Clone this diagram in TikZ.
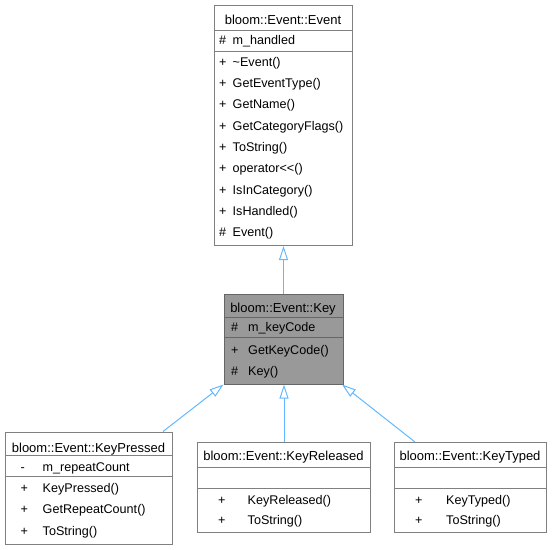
\documentclass[tikz,border=0pt]{standalone}
\usepackage{fontspec}
\setmainfont{Liberation Sans}
\usetikzlibrary{arrows.meta,calc}
\definecolor{edgeblue}{HTML}{63B8FF}
\definecolor{keyfill}{HTML}{999999}
\definecolor{bordergray}{HTML}{666666}
\definecolor{lightborder}{HTML}{808080}
\tikzset{
  umlbox/.style={draw=lightborder, line width=1pt, inner sep=0pt, anchor=north west, fill=white},
  sepline/.style={draw=lightborder, line width=1pt},
  keysep/.style={draw=bordergray, line width=1pt},
  txt/.style={inner sep=0pt, anchor=base west, font=\fontsize{12.6}{15}\selectfont},
  ttl/.style={inner sep=0pt, anchor=base, font=\fontsize{13}{15}\selectfont},
  inherit/.style={draw=edgeblue, line width=1pt, -{Triangle[open, length=14pt, width=9pt, fill=white]}}
}
\begin{document}
\begin{tikzpicture}[x=1pt, y=-1pt]
\useasboundingbox (0,0) rectangle (554,549);

% ---------- boxes ----------
\node[umlbox, minimum width=138pt, minimum height=240.5pt] (event) at (214,4.5) {};
\node[umlbox, draw=bordergray, fill=keyfill, minimum width=119pt, minimum height=90pt] (key) at (223.5,293.5) {};
\node[umlbox, minimum width=167pt, minimum height=112pt] (kp) at (5,431.5) {};
\node[umlbox, minimum width=173pt, minimum height=90pt] (kr) at (197,442) {};
\node[umlbox, minimum width=152pt, minimum height=90pt] (kt) at (394,442) {};

% separators
\draw[sepline] (214,30.5) -- (352,30.5);
\draw[sepline] (214,51) -- (352,51);
\draw[keysep] (223.5,317.5) -- (342.5,317.5);
\draw[keysep] (223.5,337.5) -- (342.5,337.5);
\draw[sepline] (5,455.5) -- (172,455.5);
\draw[sepline] (5,476.5) -- (172,476.5);
\draw[sepline] (197,467) -- (370,467);
\draw[sepline] (197,488) -- (370,488);
\draw[sepline] (394,467) -- (546,467);
\draw[sepline] (394,488) -- (546,488);

% ---------- Event ----------
\node[ttl] (et) at (283,24) {bloom::Event::Event};
\node[txt] (ea1s) at (219,44.3) {\#};
\node[txt] (ea1n) at (232.5,44.3) {m\_handled};
\node[txt] (em1s) at (219,66) {+};
\node[txt] (em1n) at (232.5,66) {\textasciitilde Event()};
\node[txt] (em2s) at (219,87.3) {+};
\node[txt] (em2n) at (232.5,87.3) {GetEventType()};
\node[txt] (em3s) at (219,108.6) {+};
\node[txt] (em3n) at (232.5,108.6) {GetName()};
\node[txt] (em4s) at (219,130) {+};
\node[txt] (em4n) at (232.5,130) {GetCategoryFlags()};
\node[txt] (em5s) at (219,151.3) {+};
\node[txt] (em5n) at (232.5,151.3) {ToString()};
\node[txt] (em6s) at (219,172.6) {+};
\node[txt] (em6n) at (232.5,172.6) {operator<{}<()};
\node[txt] (em7s) at (219,194) {+};
\node[txt] (em7n) at (232.5,194) {IsInCategory()};
\node[txt] (em8s) at (219,215.3) {+};
\node[txt] (em8n) at (232.5,215.3) {IsHandled()};
\node[txt] (em9s) at (219,236.6) {\#};
\node[txt] (em9n) at (232.5,236.6) {Event()};

% ---------- Key ----------
\node[ttl] (kt0) at (283,312.3) {bloom::Event::Key};
\node[txt] (ka1s) at (231,331.7) {\#};
\node[txt] (ka1n) at (248,331.7) {m\_keyCode};
\node[txt] (km1s) at (231,354.3) {+};
\node[txt] (km1n) at (248,354.3) {GetKeyCode()};
\node[txt] (km2s) at (231,375.7) {\#};
\node[txt] (km2n) at (248,375.7) {Key()};

% ---------- KeyPressed ----------
\node[ttl] (kpt) at (88.5,452.3) {bloom::Event::KeyPressed};
\node[txt] (kpa1s) at (20.5,471.7) {-};
\node[txt] (kpa1n) at (42.5,471.7) {m\_repeatCount};
\node[txt] (kpm1s) at (20.5,492.7) {+};
\node[txt] (kpm1n) at (42.5,492.7) {KeyPressed()};
\node[txt] (kpm2s) at (20.5,513.8) {+};
\node[txt] (kpm2n) at (42.5,513.8) {GetRepeatCount()};
\node[txt] (kpm3s) at (20.5,535) {+};
\node[txt] (kpm3n) at (42.5,535) {ToString()};

% ---------- KeyReleased ----------
\node[ttl] (krt) at (283.5,460) {bloom::Event::KeyReleased};
\node[txt] (krm1s) at (218,504) {+};
\node[txt] (krm1n) at (247.5,504) {KeyReleased()};
\node[txt] (krm2s) at (218,524.5) {+};
\node[txt] (krm2n) at (247.5,524.5) {ToString()};

% ---------- KeyTyped ----------
\node[ttl] (ktt) at (470,460) {bloom::Event::KeyTyped};
\node[txt] (ktm1s) at (415,504) {+};
\node[txt] (ktm1n) at (446,504) {KeyTyped()};
\node[txt] (ktm2s) at (415,524.5) {+};
\node[txt] (ktm2n) at (446,524.5) {ToString()};

% ---------- inheritance ----------
\draw[inherit] (key.north) -- (event.south);
\draw[inherit] ($(kp.north east)+(-10,0)$) -- (key.south west);
\draw[inherit] (kr.north) -- (kr.north |- key.south);
\draw[inherit] ($(kt.north west)+(21,0)$) -- ($(key.south east)+(-1.5,0)$);
\end{tikzpicture}
\end{document}
